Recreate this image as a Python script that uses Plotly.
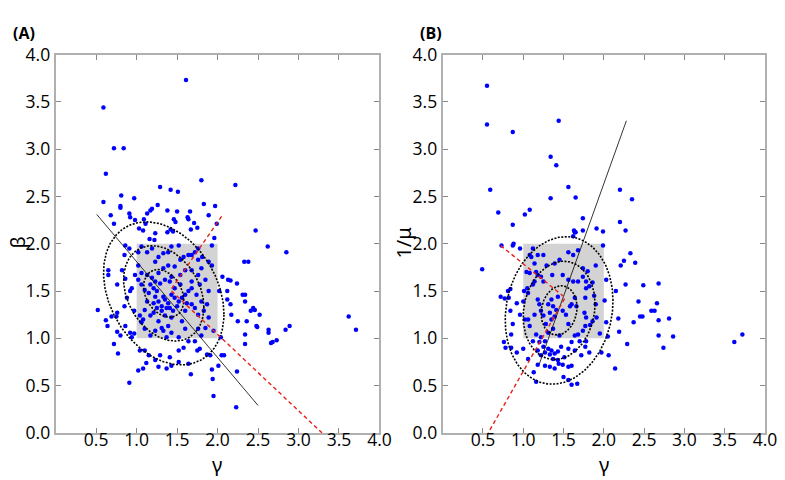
import numpy as np
import plotly.graph_objects as go

# ---------------- data: panel A (gamma, beta) ----------------
a_gamma = [0.59,1.61,0.72,0.84,0.62,0.59,0.81,0.68,0.72,0.80,0.80,0.91,0.92,0.97,0.98,1.03,1.08,1.09,1.13,1.17,
           1.19,1.11,1.23,1.26,1.29,1.38,1.42,1.51,1.50,1.46,1.48,1.38,1.42,1.45,1.63,1.64,1.66,1.67,1.71,1.75,
           1.80,1.83,1.89,1.97,1.99,1.96,2.22,2.47,1.16,1.22,
           0.52,0.62,0.64,0.72,0.77,0.65,0.65,0.76,0.76,0.69,0.75,0.76,0.80,0.86,0.92,0.94,0.97,0.91,0.85,0.88,
           0.92,0.94,0.86,0.82,0.85,0.91,0.86,1.02,1.02,0.98,0.97,1.04,1.10,1.02,1.08,1.12,1.15,1.23,1.27,1.29,
           1.37,1.41,1.43,1.52,1.64,1.67,1.52,1.58,1.75,1.78,1.87,1.91,1.93,1.94,1.95,2.01,2.05,2.08,2.23,2.24,
           2.34,2.34,2.36,2.34,2.34,2.31,2.24,2.16,2.13,2.06,2.02,2.12,2.12,2.16,2.17,2.25,2.41,2.44,2.46,2.52,
           2.48,2.49,2.33,2.38,2.62,2.85,2.63,2.63,2.66,2.68,2.73,2.84,2.89,3.62,3.71,2.04,
           1.06,1.13,1.19,1.23,1.27,1.33,1.39,1.43,1.52,1.58,1.64,1.68,1.72,1.76,1.81,1.93,1.93,1.89,1.80,1.76,
           1.68,1.60,1.54,1.47,1.39,1.33,1.27,1.19,1.13,1.06,1.02,1.06,1.10,1.15,1.21,1.25,1.27,1.33,1.35,1.37,
           1.31,1.25,1.21,1.17,1.10,1.13,1.21,1.27,1.31,1.39,1.43,1.45,1.50,1.52,1.56,1.60,1.64,1.68,1.74,1.78,
           1.85,1.89,1.87,1.83,1.76,1.72,1.68,1.60,1.56,1.60,1.52,1.43,1.37,1.33,1.23,1.17,1.10,1.06,1.04,1.08,
           1.76,1.85,1.89,1.95,1.80,1.72,1.64,1.35,1.41,1.47,1.54,1.43,1.39,1.31,1.35,1.41,1.23,1.17,1.29,1.43,
           1.54,1.76,1.68,1.23,1.47,1.62,1.80]
a_beta = [3.44,3.73,3.01,3.01,2.74,2.44,2.51,2.30,2.21,2.38,2.40,2.32,2.28,2.48,2.25,2.16,2.14,2.26,2.32,2.35,
          2.37,2.21,2.11,2.41,2.60,2.35,2.57,2.55,2.34,2.26,2.23,2.12,2.15,2.13,2.28,2.26,2.34,2.15,2.22,2.17,
          2.67,2.42,2.30,2.40,2.21,2.06,2.62,2.14,2.05,2.04,
          1.30,1.19,1.13,0.94,0.84,1.67,1.72,1.57,1.27,1.23,1.23,1.07,1.03,1.13,1.06,1.01,1.05,0.53,1.34,1.43,
          1.50,1.53,1.63,1.72,1.88,1.95,1.98,1.91,1.77,1.67,1.29,0.87,0.87,0.66,0.68,0.74,0.82,0.77,0.70,0.82,
          0.68,0.80,0.71,0.75,0.73,0.62,0.87,0.90,0.87,0.89,0.83,0.82,0.67,0.57,0.39,0.71,0.82,0.82,0.27,0.65,
          0.94,1.04,1.18,1.39,1.46,1.46,1.58,1.61,1.62,1.65,1.50,1.50,1.41,1.36,1.25,1.18,1.29,1.32,1.30,1.25,
          1.13,1.12,1.81,1.81,1.97,1.91,1.09,1.06,0.95,0.96,0.98,1.09,1.13,1.23,1.09,1.01,
          1.97,1.91,1.95,1.81,1.86,1.90,1.91,1.97,1.98,1.86,1.88,1.88,1.91,1.95,1.86,1.98,1.77,1.81,1.74,1.67,
          1.72,1.72,1.83,1.76,1.77,1.74,1.69,1.64,1.67,1.69,1.62,1.57,1.51,1.48,1.53,1.50,1.39,1.44,1.41,1.32,
          1.34,1.32,1.27,1.24,1.30,1.39,1.37,1.18,1.11,1.13,1.22,1.29,1.34,1.39,1.43,1.46,1.50,1.53,1.46,1.57,
          1.62,1.50,1.36,1.29,1.25,1.32,1.36,1.29,1.18,1.10,1.01,1.06,1.01,1.08,1.08,1.03,1.10,1.17,1.24,1.20,
          1.10,1.11,1.22,1.08,1.03,0.97,0.97,1.62,1.60,1.53,1.57,1.46,1.37,1.29,1.24,1.32,1.60,1.57,1.58,1.65,
          1.67,1.83,1.60,1.44,1.43,1.37,1.39]

# ---------------- data: panel B (gamma, 1/mu) ----------------
b_gamma = [0.55,0.55,0.59,0.69,0.87,0.87,1.02,1.08,1.34,1.41,1.44,1.34,1.56,1.65,1.74,1.63,1.64,1.65,1.74,1.62,
           1.91,1.99,2.20,2.35,2.20,2.27,
           0.49,0.73,0.87,0.88,0.96,0.72,0.77,0.82,0.81,0.84,0.84,0.92,0.96,0.87,0.85,0.76,0.78,0.85,0.92,1.00,
           1.06,1.16,1.13,1.18,1.22,1.27,1.33,1.39,1.44,1.49,1.56,1.60,1.50,1.56,1.60,1.67,1.56,1.64,1.77,1.82,
           1.97,2.06,2.14,2.19,2.18,2.15,2.21,2.25,2.33,2.39,2.27,2.43,2.45,2.48,2.49,2.37,2.29,2.59,2.63,2.66,
           2.68,2.68,2.68,2.81,2.86,2.74,3.62,3.72,2.05,2.03,2.01,1.99,2.03,
           1.00,1.01,1.05,1.06,1.08,1.10,1.12,1.14,1.18,1.04,1.08,1.16,1.18,1.22,1.25,1.14,1.12,1.18,1.20,1.14,
           1.06,1.02,1.22,1.25,1.28,1.33,1.35,1.39,1.41,1.37,1.31,1.35,1.43,1.49,1.53,1.56,1.60,1.58,1.64,1.66,
           1.64,1.68,1.74,1.77,1.78,1.76,1.77,1.78,1.82,1.78,1.74,1.74,1.80,1.90,1.86,1.88,1.90,1.91,1.86,1.83,
           1.95,1.68,1.62,1.56,1.49,1.45,1.39,1.36,1.29,1.25,1.56,1.62,1.68,1.45,1.37,1.31,1.22,1.16,1.08,
           1.25,1.31,1.35,1.39,1.43,1.33,1.27,1.18,1.12,1.20,1.47,1.51,1.43,1.37,1.72,1.70,1.78,1.60,1.27]
b_invmu = [3.67,3.26,2.57,2.33,3.18,2.20,2.31,2.36,2.92,2.83,3.30,2.48,2.60,2.49,2.27,2.14,2.12,2.12,2.14,2.08,
           2.16,2.13,2.57,2.47,2.23,2.14,
           1.73,1.98,1.98,2.00,1.95,1.44,1.42,1.43,1.50,1.52,1.29,1.37,1.25,1.15,1.04,0.96,0.90,0.90,0.85,0.89,
           0.78,0.54,0.64,0.72,0.82,0.71,0.70,0.68,0.73,0.72,0.70,0.71,0.59,0.56,0.51,0.52,0.89,0.87,0.91,0.85,
           0.85,0.82,0.68,1.07,1.21,1.50,1.77,1.82,1.90,1.80,1.57,1.39,1.23,1.23,1.56,1.17,0.94,1.29,1.29,1.37,
           1.58,1.19,1.03,1.21,1.02,0.90,0.96,1.04,1.02,1.17,1.40,1.98,1.62,
           1.39,1.50,1.53,1.48,1.88,1.86,1.95,1.79,1.88,1.70,1.69,1.70,1.67,1.65,1.60,1.60,1.57,1.41,1.36,1.25,
           1.20,1.20,1.29,1.24,1.15,1.27,1.20,1.23,1.30,1.34,1.36,1.41,1.44,1.29,1.25,1.15,1.36,1.34,1.43,1.34,
           1.03,1.04,1.08,1.13,1.22,1.27,1.43,1.53,1.55,1.60,1.65,1.74,1.71,1.77,1.59,1.45,1.36,1.22,1.18,1.14,
           1.05,1.60,1.60,1.62,1.67,1.83,1.79,1.67,1.77,1.88,1.91,1.88,1.93,1.03,1.10,1.06,1.01,1.04,1.13,
           0.91,0.89,0.87,0.84,0.86,0.83,0.85,0.87,0.97,0.96,0.91,0.80,0.77,0.78,0.82,0.97,0.97,0.96,0.97]

tick_vals = [0.0,0.5,1.0,1.5,2.0,2.5,3.0,3.5,4.0]
x_tick_labels = ["", "0.5","1.0","1.5","2.0","2.5","3.0","3.5","4.0"]
y_tick_labels = ["0.0","0.5","1.0","1.5","2.0","2.5","3.0","3.5","4.0"]

# fitted summaries (center, sigma_x, sigma_y, correlation)
a_center = (1.335, 1.475); a_sx, a_sy, a_rho = 0.248, 0.252, -0.29
b_center = (1.445, 1.295); b_sx, b_sy, b_rho = 0.223, 0.260, 0.13
sigma_levels = [1, 2, 3]

# axis lines (endpoints in data units)
a_black = ([0.507, 2.50], [2.31, 0.29])
a_red = ([2.05, 1.42, 3.29], [2.29, 1.51, 0.0])
b_black = ([2.28, 1.20], [3.30, 0.73])
b_red = ([0.72, 1.52, 0.565], [1.98, 1.43, 0.0])

FONT = "Open Sans"
GREEK = "Noto Sans"
fig = go.Figure()

def ellipse(center, sx, sy, rho, k):
    cov = np.array([[sx*sx, rho*sx*sy], [rho*sx*sy, sy*sy]])
    L = np.linalg.cholesky(cov)
    t = np.linspace(0, 2*np.pi, 240)
    pts = k * (L @ np.vstack([np.cos(t), np.sin(t)]))
    return center[0] + pts[0], center[1] + pts[1]

def add_panel(xs, ys, center, sx, sy, rho, black, red, xa, ya):
    fig.add_trace(go.Scatter(x=xs, y=ys, mode="markers", xaxis=xa, yaxis=ya,
                             marker=dict(color="#0000ff", size=4.5, line=dict(width=0)),
                             showlegend=False, hoverinfo="skip"))
    for k in sigma_levels:
        ex, ey = ellipse(center, sx, sy, rho, k)
        fig.add_trace(go.Scatter(x=ex, y=ey, mode="lines", xaxis=xa, yaxis=ya,
                                 line=dict(color="black", width=1.6, dash="2px,1.5px"),
                                 showlegend=False, hoverinfo="skip"))
    fig.add_trace(go.Scatter(x=black[0], y=black[1], mode="lines", xaxis=xa, yaxis=ya,
                             line=dict(color="black", width=0.8), showlegend=False, hoverinfo="skip"))
    fig.add_trace(go.Scatter(x=red[0], y=red[1], mode="lines", xaxis=xa, yaxis=ya,
                             line=dict(color="#e8201a", width=1.4, dash="4px,3px"),
                             showlegend=False, hoverinfo="skip"))
    fig.add_shape(type="rect", x0=1, x1=2, y0=1, y1=2, xref=xa, yref=ya,
                  fillcolor="#d3d3d3", line=dict(width=0), layer="below")

add_panel(a_gamma, a_beta, a_center, a_sx, a_sy, a_rho, a_black, a_red, "x", "y")
add_panel(b_gamma, b_invmu, b_center, b_sx, b_sy, b_rho, b_black, b_red, "x2", "y2")

axis_common = dict(range=[0, 4], showgrid=False, zeroline=False, showline=True, linecolor="#b0b0b0",
                   linewidth=2, mirror="ticks", ticks="inside", ticklen=5, tickwidth=1, tickcolor="#888888",
                   tickvals=tick_vals, tickfont=dict(family=FONT, size=17.5, color="black"))

# page placement observed in the renderer
def fx(px):
    return (px - 11.0) / 770.0
def fy(py):
    return 1 - (py - 16) / 462.0

ydom = [fy(433.3), fy(50)]
fig.update_layout(
    width=785, height=480, margin=dict(l=0, r=0, t=0, b=0),
    paper_bgcolor="white", plot_bgcolor="white",
    xaxis=dict(domain=[fx(58.5), fx(381)], anchor="y", ticktext=x_tick_labels, ticklabelstandoff=-10, **axis_common),
    yaxis=dict(domain=ydom, anchor="x", ticktext=y_tick_labels, **axis_common),
    xaxis2=dict(domain=[fx(444), fx(765)], anchor="y2", ticktext=x_tick_labels, ticklabelstandoff=-10, **axis_common),
    yaxis2=dict(domain=ydom, anchor="x2", ticktext=y_tick_labels, **axis_common),
    annotations=[
        dict(text="<b>(A)</b>", x=fx(27), y=1.0, xref="paper", yref="paper", showarrow=False, borderpad=0,
             xanchor="center", yanchor="top", font=dict(family=FONT, size=16, color="black")),
        dict(text="<b>(B)</b>", x=fx(432), y=1.0, xref="paper", yref="paper", showarrow=False, borderpad=0,
             xanchor="center", yanchor="top", font=dict(family=FONT, size=16, color="black")),
        dict(text="γ", x=fx(219), y=fy(465), xref="paper", yref="paper", showarrow=False,
             xanchor="center", yanchor="middle", font=dict(family=GREEK, size=20, color="black")),
        dict(text="γ", x=fx(605), y=fy(465), xref="paper", yref="paper", showarrow=False,
             xanchor="center", yanchor="middle", font=dict(family=GREEK, size=20, color="black")),
        dict(text="β", x=fx(20.5), y=fy(241), xref="paper", yref="paper", showarrow=False, textangle=-90,
             xanchor="center", yanchor="middle", font=dict(family=GREEK, size=20, color="black")),
        dict(text="1/μ", x=fx(405), y=fy(241), xref="paper", yref="paper", showarrow=False, textangle=-90,
             xanchor="center", yanchor="middle", font=dict(family=GREEK, size=20, color="black")),
    ],
)

fig.write_html("out.html")
